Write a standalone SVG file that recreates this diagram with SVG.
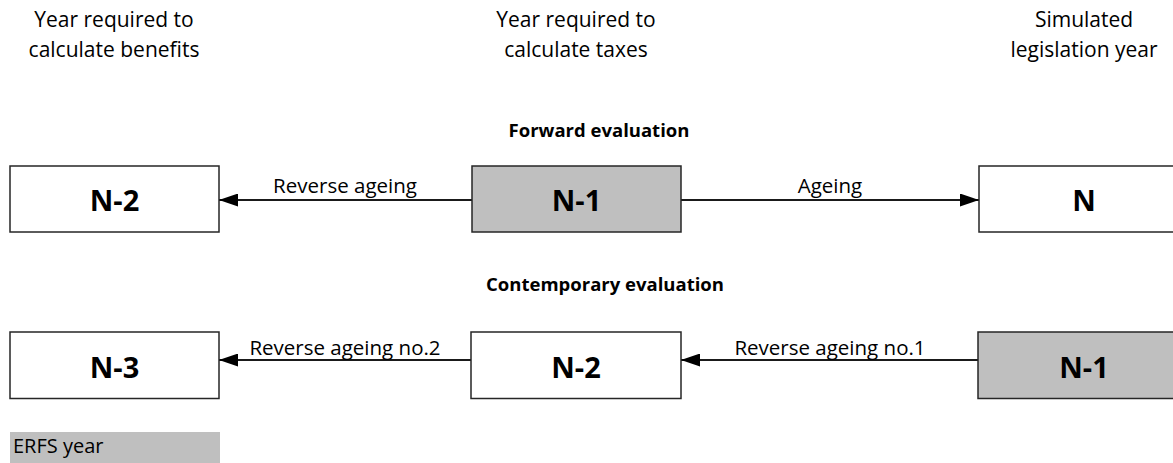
<svg xmlns="http://www.w3.org/2000/svg" width="1173" height="463" viewBox="0 0 1173 463">
  <defs>
    <marker id="arrow" viewBox="0 0 19 13" refX="19" refY="6.5" markerWidth="19" markerHeight="13" markerUnits="userSpaceOnUse" orient="auto">
      <path d="M0,0 L19,6.5 L0,13 z" fill="#000"/>
    </marker>
    <style>
      .box { fill: #ffffff; stroke: #262626; stroke-width: 1.5; }
      .erfs { fill: #bfbfbf; stroke: #262626; stroke-width: 1.5; }
      .boxlabel { font-family: "Open Sans", "Liberation Sans", sans-serif; font-weight: bold; font-size: 29px; fill: #000; text-anchor: middle; }
      .head { font-family: "Open Sans", "Liberation Sans", sans-serif; font-size: 21px; fill: #000; text-anchor: middle; }
      .title { font-family: "Open Sans", "Liberation Sans", sans-serif; font-weight: bold; font-size: 18.5px; fill: #000; text-anchor: middle; }
      .lbl { font-family: "Open Sans", "Liberation Sans", sans-serif; font-size: 20.5px; fill: #000; text-anchor: middle; }
      .conn { stroke: #1a1a1a; stroke-width: 2; fill: none; marker-end: url(#arrow); }
    </style>
  </defs>
  <rect width="1173" height="463" fill="#ffffff"/>

  <g id="headers">
    <text class="head" x="114" y="27">Year required to</text>
    <text class="head" x="114" y="57">calculate benefits</text>
    <text class="head" x="576" y="27">Year required to</text>
    <text class="head" x="576" y="57">calculate taxes</text>
    <text class="head" x="1084" y="27">Simulated</text>
    <text class="head" x="1084" y="57">legislation year</text>
  </g>

  <g id="titles">
    <text class="title" x="599" y="137">Forward evaluation</text>
    <text class="title" x="605" y="291">Contemporary evaluation</text>
  </g>

  <g id="connectors">
    <line class="conn" x1="472" y1="200" x2="219" y2="200"/>
    <line class="conn" x1="681" y1="200" x2="979" y2="200"/>
    <line class="conn" x1="978" y1="360" x2="681" y2="360"/>
    <line class="conn" x1="471" y1="360" x2="219" y2="360"/>
    <text class="lbl" x="345" y="193">Reverse ageing</text>
    <text class="lbl" x="830" y="193">Ageing</text>
    <text class="lbl" x="345" y="355">Reverse ageing no.2</text>
    <text class="lbl" x="830" y="355">Reverse ageing no.1</text>
  </g>

  <g id="fwd-n2">
    <rect class="box" x="10" y="166" width="209" height="66"/>
    <text class="boxlabel" x="114.5" y="211">N-2</text>
  </g>
  <g id="fwd-n1">
    <rect class="erfs" x="472" y="166" width="209" height="66"/>
    <text class="boxlabel" x="576.5" y="211">N-1</text>
  </g>
  <g id="fwd-n">
    <rect class="box" x="979" y="166" width="210" height="66"/>
    <text class="boxlabel" x="1084" y="211">N</text>
  </g>

  <g id="con-n3">
    <rect class="box" x="10" y="332" width="209" height="66.5"/>
    <text class="boxlabel" x="114.5" y="378">N-3</text>
  </g>
  <g id="con-n2">
    <rect class="box" x="471" y="332" width="210" height="66.5"/>
    <text class="boxlabel" x="576" y="378">N-2</text>
  </g>
  <g id="con-n1">
    <rect class="erfs" x="978" y="332" width="211" height="66.5"/>
    <text class="boxlabel" x="1084" y="378">N-1</text>
  </g>

  <g id="legend">
    <rect x="10" y="432" width="210" height="31" fill="#bfbfbf"/>
    <text x="13" y="453" font-family="&quot;Open Sans&quot;, &quot;Liberation Sans&quot;, sans-serif" font-size="20px" fill="#000">ERFS year</text>
  </g>
</svg>
